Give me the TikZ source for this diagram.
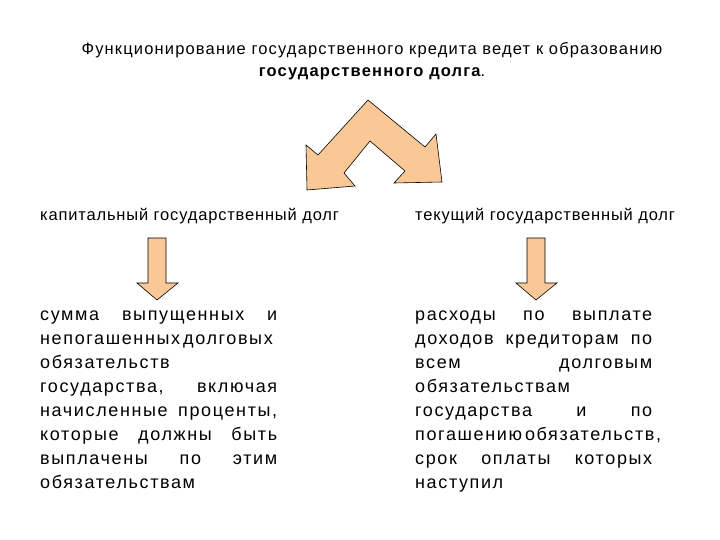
\documentclass[tikz,border=0pt]{standalone}
\usepackage{fontspec}
\setmainfont{Liberation Sans}
\begin{document}
\begin{tikzpicture}[x=1pt,y=-1pt,
  arr/.style={fill={rgb,255:red,250;green,200;blue,150},draw=black,line width=0.6pt},
  body/.style={anchor=north west,text width=237pt,align=left,inner sep=0pt,font=\fontsize{18}{23.9}\selectfont\addfontfeatures{LetterSpace=9}},
  head/.style={anchor=west,inner sep=0pt,font=\fontsize{16.5}{17}\selectfont\addfontfeatures{LetterSpace=5}}]
\useasboundingbox (0,0) rectangle (720,540);
\node[anchor=center,align=center,inner sep=0pt,font=\fontsize{16.5}{22}\selectfont\addfontfeatures{LetterSpace=7}] (t) at (372,61)
  {Функционирование государственного кредита ведет к образованию\\ \textbf{государственного долга}.};
\draw[arr] (368,100) -- (425,147) -- (436,134) -- (442,182) -- (394,183) -- (405,171) -- (370,141)
  -- (344,173) -- (355,186) -- (307,190) -- (306,145) -- (318,155) -- cycle;
\node[head] (h1) at (40,216) {капитальный государственный долг};
\node[head] (h2) at (415,216) {текущий государственный долг};
\draw[arr] (148,238) -- (166,238) -- (166,283) -- (178,283) -- (157,300) -- (137,283) -- (148,283) -- cycle;
\draw[arr] (527,238) -- (545,238) -- (545,283) -- (557,283) -- (536,300) -- (516,283) -- (527,283) -- cycle;
\node[body] (b1) at (40,311) {сумма\hfill выпущенных\hfill и\\
непогашенных\,долговых\\
обязательств\\
государства,\hfill включая\\
начисленные\hfill проценты,\\
которые\hfill должны\hfill быть\\
выплачены\hfill по\hfill этим\\
обязательствам};
\node[body] (b2) at (415,311) {расходы\hfill по\hfill выплате\\
доходов\hfill кредиторам\hfill по\\
всем\hfill долговым\\
обязательствам\\
государства\hfill и\hfill по\\
погашению\,обязательств,\\
срок\hfill оплаты\hfill которых\\
наступил};
\end{tikzpicture}
\end{document}
